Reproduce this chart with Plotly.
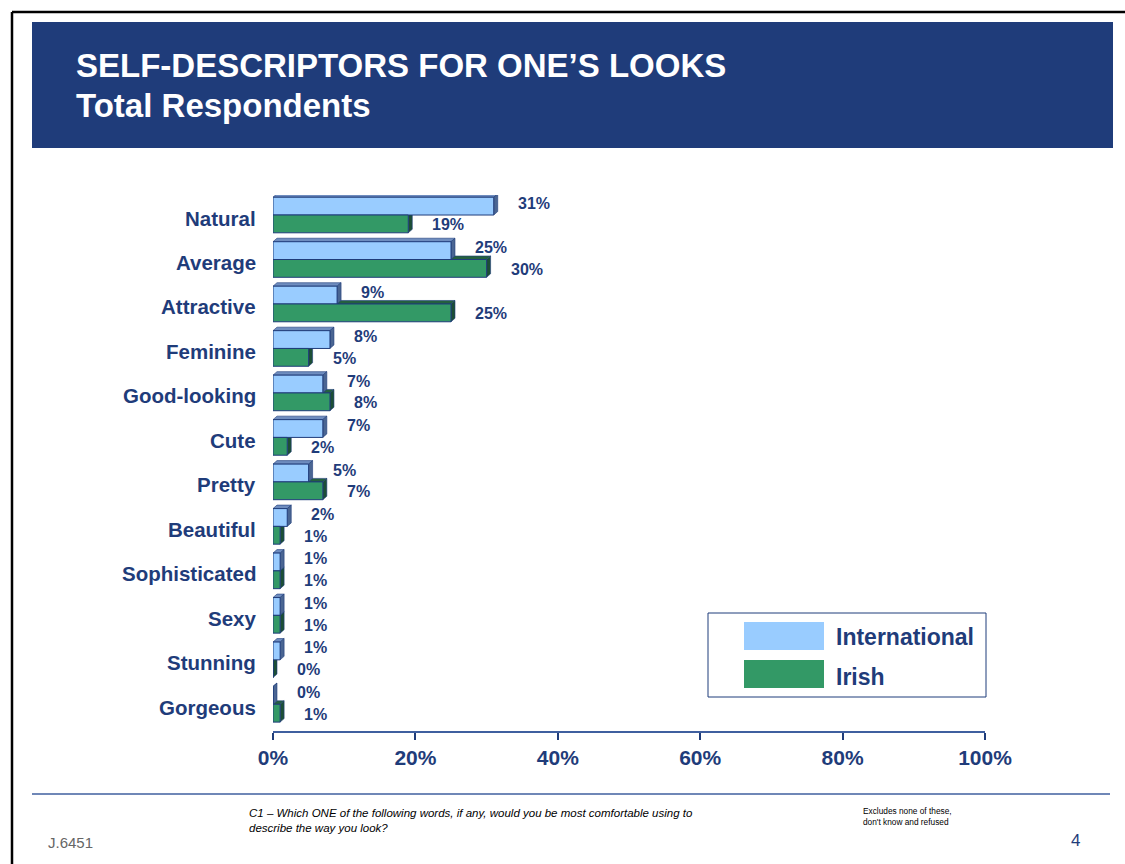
import plotly.graph_objects as go

# Survey results: share of respondents choosing each word to describe their looks
categories = ["Natural", "Average", "Attractive", "Feminine", "Good-looking", "Cute",
              "Pretty", "Beautiful", "Sophisticated", "Sexy", "Stunning", "Gorgeous"]
international = [31, 25, 9, 8, 7, 7, 5, 2, 1, 1, 1, 0]
irish = [19, 30, 25, 5, 8, 2, 7, 1, 1, 1, 0, 1]
x_ticks = [0, 20, 40, 60, 80, 100]

NAVY = "#1F3C7A"
FONT = "Arial, Liberation Sans, sans-serif"
W, H = 1125, 864
L, R, T, B = 273, 140, 195, 133
PW, PH = W - L - R, H - T - B

def px(x):
    return (x - L) / PW

def py(y):
    return (H - B - y) / PH

n = len(categories)
pos = list(range(n))
bar_w = 0.4
y_range = [n - 0.4, -0.45]

fig = go.Figure()
fig.add_trace(go.Bar(
    y=pos, x=international, orientation="h", name="International",
    width=bar_w, offset=-bar_w,
    marker=dict(color="#99CCFF", line=dict(color=NAVY, width=1)),
    hoverinfo="x+y",
))
fig.add_trace(go.Bar(
    y=pos, x=irish, orientation="h", name="Irish",
    width=bar_w, offset=0,
    marker=dict(color="#339966", line=dict(color=NAVY, width=1)),
    hoverinfo="x+y",
))

# 3-D depth faces behind each bar (converted from pixels to axis units)
dx = 4 * 100 / PW
dy = 3.5 * (y_range[0] - y_range[1]) / PH
shapes = []

def depth_faces(values, off, side_col, top_col):
    out = []
    for i, v in enumerate(values):
        y0 = i + off            # upper edge on screen
        y1 = y0 + bar_w         # lower edge on screen
        top = (f"M 0,{y0} L {dx},{y0 - dy} L {v + dx},{y0 - dy} L {v},{y0} Z")
        side = (f"M {v},{y0} L {v + dx},{y0 - dy} L {v + dx},{y1 - dy} L {v},{y1} Z")
        out.append(dict(type="path", path=top, xref="x", yref="y", layer="below",
                        fillcolor=top_col, line=dict(color=NAVY, width=0.6)))
        out.append(dict(type="path", path=side, xref="x", yref="y", layer="below",
                        fillcolor=side_col, line=dict(color=NAVY, width=0.6)))
    return out

shapes += depth_faces(irish, 0, "#1C4E35", "#24603F")
shapes += depth_faces(international, -bar_w, "#4A6592", "#6F8DBF")

# Page frame, header band and footer rule
shapes += [
    dict(type="line", xref="paper", yref="paper", x0=px(12), x1=px(1125), y0=py(12), y1=py(12),
         line=dict(color="black", width=2.5), layer="above"),
    dict(type="line", xref="paper", yref="paper", x0=px(12), x1=px(12), y0=py(12), y1=py(864),
         line=dict(color="black", width=2.5), layer="above"),
    dict(type="rect", xref="paper", yref="paper", x0=px(32), x1=px(1113), y0=py(22), y1=py(148),
         fillcolor=NAVY, line=dict(width=0), layer="above"),
    dict(type="line", xref="paper", yref="paper", x0=px(32), x1=px(1110), y0=py(794), y1=py(794),
         line=dict(color="#3F5F9F", width=1.5), layer="above"),
    # legend box and swatches
    dict(type="rect", xref="paper", yref="paper", x0=px(708), x1=px(986), y0=py(613), y1=py(697),
         fillcolor="white", line=dict(color=NAVY, width=1), layer="above"),
    dict(type="rect", xref="paper", yref="paper", x0=px(744), x1=px(824), y0=py(622), y1=py(650),
         fillcolor="#99CCFF", line=dict(width=0), layer="above"),
    dict(type="rect", xref="paper", yref="paper", x0=px(744), x1=px(824), y0=py(660), y1=py(688),
         fillcolor="#339966", line=dict(width=0), layer="above"),
]

annotations = []
# value labels
lbl_font = dict(family=FONT, size=16, color=NAVY, weight="bold")
for i, (a, b) in enumerate(zip(international, irish)):
    annotations.append(dict(x=a, y=i - bar_w / 2, xref="x", yref="y", text=f"{a}%",
                            showarrow=False, xanchor="left", yshift=3, xshift=22, font=lbl_font))
    annotations.append(dict(x=b, y=i + bar_w / 2, xref="x", yref="y", text=f"{b}%",
                            showarrow=False, xanchor="left", yshift=-1, xshift=22, font=lbl_font))

# category labels, set just below the split between each pair of bars
for i, c in enumerate(categories):
    annotations.append(dict(x=px(258), y=i, xref="paper", yref="y", text=c, showarrow=False,
                            xanchor="right", yanchor="middle", yshift=-3,
                            font=dict(family=FONT, size=20.5, color=NAVY, weight="bold")))

# header titles
annotations += [
    dict(x=px(74), y=py(66), xref="paper", yref="paper", text="SELF-DESCRIPTORS FOR ONE’S LOOKS",
         showarrow=False, xanchor="left", yanchor="middle",
         font=dict(family=FONT, size=33, color="white", weight="bold")),
    dict(x=px(74), y=py(106), xref="paper", yref="paper", text="Total Respondents",
         showarrow=False, xanchor="left", yanchor="middle",
         font=dict(family=FONT, size=33, color="white", weight="bold")),
    # legend labels
    dict(x=px(834), y=py(637), xref="paper", yref="paper", text="International",
         showarrow=False, xanchor="left", yanchor="middle",
         font=dict(family=FONT, size=23, color=NAVY, weight="bold")),
    dict(x=px(834), y=py(677), xref="paper", yref="paper", text="Irish",
         showarrow=False, xanchor="left", yanchor="middle",
         font=dict(family=FONT, size=23, color=NAVY, weight="bold")),
    # footer
    dict(x=px(247), y=py(805), xref="paper", yref="paper",
         text="<i>C1 – Which ONE of the following words, if any, would you be most comfortable using to<br>describe the way you look?</i>",
         showarrow=False, xanchor="left", yanchor="top", align="left",
         font=dict(family=FONT, size=11.5, color="black")),
    dict(x=px(861), y=py(804), xref="paper", yref="paper",
         text="Excludes none of these,<br>don't know and refused",
         showarrow=False, xanchor="left", yanchor="top", align="left",
         font=dict(family=FONT, size=8.3, color="black")),
    dict(x=px(46), y=py(842), xref="paper", yref="paper", text="J.6451",
         showarrow=False, xanchor="left", yanchor="middle",
         font=dict(family=FONT, size=15, color="#666666")),
    dict(x=px(1082), y=py(840), xref="paper", yref="paper", text="4",
         showarrow=False, xanchor="right", yanchor="middle",
         font=dict(family=FONT, size=17, color=NAVY)),
]

fig.update_layout(
    width=W, height=H, autosize=False,
    margin=dict(l=L, r=R, t=T, b=B, pad=0),
    paper_bgcolor="white", plot_bgcolor="white",
    showlegend=False, barmode="overlay",
    shapes=shapes, annotations=annotations,
    font=dict(family=FONT, color=NAVY),
    xaxis=dict(range=[0, 100], tickvals=x_ticks, ticktext=[f"{t}%" for t in x_ticks],
               showgrid=False, zeroline=False, showline=True, linecolor="#3F5F9F", linewidth=1.5,
               ticks="outside", ticklen=7, tickcolor=NAVY, tickwidth=1.5,
               tickfont=dict(family=FONT, size=21, color=NAVY, weight="bold"),
               fixedrange=True),
    yaxis=dict(range=y_range, tickvals=pos, showticklabels=False, showgrid=False,
               zeroline=False, showline=False, ticks="", fixedrange=True),
)

fig.write_html("out.html")
